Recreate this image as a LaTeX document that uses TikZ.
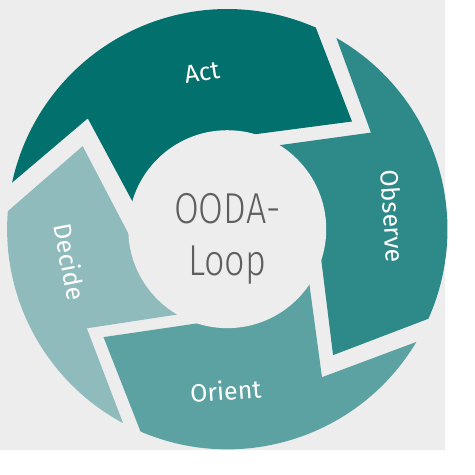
\documentclass[tikz,border=0pt]{standalone}
\usepackage{fontspec}
\setmainfont{Fira Sans}
\newfontfamily\narrowfont[FakeStretch=0.83]{Fira Sans Light}
\usepackage{tikz}
\definecolor{actteal}{HTML}{02706D}
\definecolor{obsteal}{HTML}{2E8A88}
\definecolor{oriteal}{HTML}{5DA2A2}
\definecolor{decteal}{HTML}{90BBBD}
\definecolor{paper}{HTML}{EDEDED}
\definecolor{hubtext}{HTML}{5E5E5E}

\begin{document}
\begin{tikzpicture}[x=0.02cm,y=0.02cm,
    phase/.style={text=white,font=\fontsize{15}{17}\selectfont}]
  \fill[paper] (-240,-233) rectangle (230,242);
  % the four arrows, clockwise from the top
  \fill[actteal] (167.8:232.5) arc (167.8:66.3:232.5) -- (131.7,113.7) -- (-0.5,96.3) -- (-86.7,4.3) -- (-147.3,117) -- cycle;
  \fill[obsteal] (60.3:232.5) arc (60.3:-24:232.5) -- (111.7,-133) -- (95.6,-3) -- (26,84.7) -- (151.7,102) -- cycle;
  \fill[oriteal] (-30.8:232.5) arc (-30.8:-113.2:232.5) -- (-130.7,-114) -- (-4.1,-95.4) -- (82.7,-28.5) -- (100,-156.3) -- cycle;
  \fill[decteal] (241.75:232.5) arc (241.75:175.3:232.5) -- (-152.7,87.7) -- (-92.9,-26.7) -- (-25.7,-86) -- (-148.3,-104.7) -- cycle;
  \fill[paper] (0,0) circle [radius=104.5];
  \node[phase,rotate=9] (act) at (-26.7,165.3) {Act};
  \node[phase,rotate=-86] (observe) at (174.5,13.7) {Observe};
  \node[phase,rotate=4] (orient) at (-1.7,-170.3) {Orient};
  \node[phase,rotate=-79] (decide) at (-166,-34.7) {Decide};
  \node[text=hubtext,align=center,font=\narrowfont\fontsize{26}{31.2}\selectfont] (ooda) at (0,-10.5) {OODA-\\Loop};
\end{tikzpicture}
\end{document}
